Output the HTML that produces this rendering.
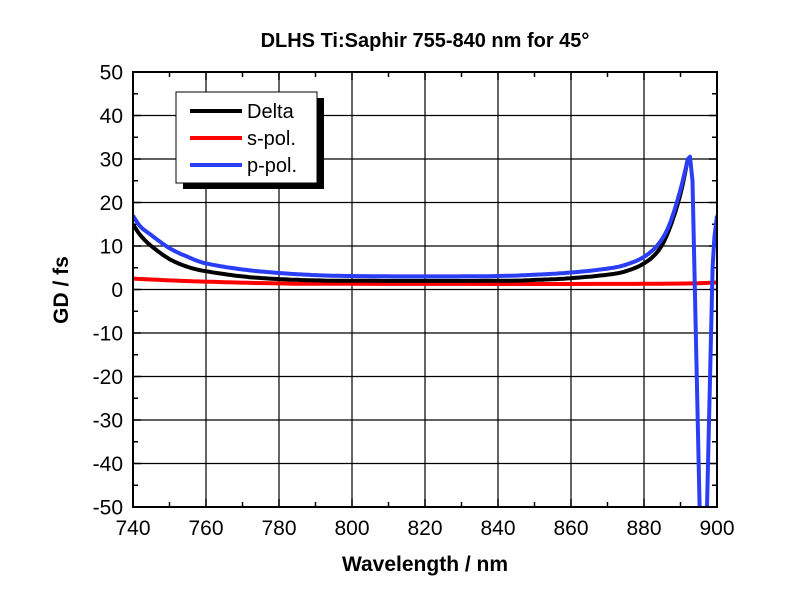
<!DOCTYPE html>
<html><head><meta charset="utf-8"><style>
html,body{margin:0;padding:0;background:#fff}
svg text{font-family:"Liberation Sans",Arial,sans-serif}
</style></head><body>
<svg id="s" width="800" height="600" xmlns="http://www.w3.org/2000/svg"></svg>
<script>
const X0=133,X1=717,Y0=72,Y1=507;
const xs=l=>X0+(l-740)*(X1-X0)/160, ys=v=>Y1-(v+50)*(Y1-Y0)/100;
let h='<rect width="800" height="600" fill="#fff"/>';
h+='<text x="425" y="47" text-anchor="middle" font-size="20" font-weight="bold">DLHS Ti:Saphir 755-840 nm for 45°</text>';
for(let l=760;l<900;l+=20)h+=`<line x1="${xs(l)}" y1="${Y0}" x2="${xs(l)}" y2="${Y1}" stroke="#000" stroke-width="1.2"/>`;
for(let v=-40;v<50;v+=10)h+=`<line x1="${X0}" y1="${ys(v)}" x2="${X1}" y2="${ys(v)}" stroke="#000" stroke-width="1.2"/>`;
for(let l=740;l<=900;l+=10){let L=(l%20==0)?8:5;h+=`<line x1="${xs(l)}" y1="${Y1}" x2="${xs(l)}" y2="${Y1-L}" stroke="#000" stroke-width="1.5"/><line x1="${xs(l)}" y1="${Y0}" x2="${xs(l)}" y2="${Y0+L}" stroke="#000" stroke-width="1.5"/>`;}
for(let v=-50;v<=50;v+=5){let L=(v%10==0)?8:5;h+=`<line x1="${X0}" y1="${ys(v)}" x2="${X0+L}" y2="${ys(v)}" stroke="#000" stroke-width="1.5"/><line x1="${X1}" y1="${ys(v)}" x2="${X1-L}" y2="${ys(v)}" stroke="#000" stroke-width="1.5"/>`;}
for(let l=740;l<=900;l+=20)h+=`<text x="${xs(l)}" y="535" text-anchor="middle" font-size="21">${l}</text>`;
for(let v=-50;v<=50;v+=10)h+=`<text x="123" y="${ys(v)+7.5}" text-anchor="end" font-size="21">${v}</text>`;
h+='<text x="425" y="571" text-anchor="middle" font-size="21" font-weight="bold">Wavelength / nm</text>';
h+='<text transform="translate(68,290) rotate(-90)" text-anchor="middle" font-size="21" font-weight="bold">GD / fs</text>';
function cr(a){ // catmull-rom sample
  let out=[a[0]];
  for(let i=0;i<a.length-1;i++){
    const p0=a[Math.max(0,i-1)],p1=a[i],p2=a[i+1],p3=a[Math.min(a.length-1,i+2)];
    for(let t=0.1;t<=1.0001;t+=0.1){
      const t2=t*t,t3=t2*t;
      const f=k=>0.5*((2*p1[k])+(-p0[k]+p2[k])*t+(2*p0[k]-5*p1[k]+4*p2[k]-p3[k])*t2+(-p0[k]+3*p1[k]-3*p2[k]+p3[k])*t3);
      out.push([f(0),f(1)]);
    }
  }
  return out;
}
const P=a=>'M'+a.map(p=>xs(p[0]).toFixed(1)+','+ys(p[1]).toFixed(1)).join(' L');
const s=[[740,2.5],[750,2.1],[760,1.8],[780,1.4],[800,1.3],[880,1.3],[900,1.6]];
const d=[[740,15],[742,12.5],[745,10],[750,7],[755,5.2],[760,4.2],[770,3],[780,2.4],[790,2.1],[800,2],[840,2],[850,2.2],[860,2.6],[870,3.4],[875,4.2],[880,6],[884,9],[887,14],[890,22],[892,30]];
const p=[[740,17],[742,14.5],[745,12.5],[750,9.5],[755,7.5],[760,6],[770,4.6],[780,3.8],[790,3.3],[800,3.1],[820,3],[840,3.1],[850,3.4],[860,3.9],[870,4.8],[875,5.7],[880,7.5],[884,10.5],[887,15],[890,23],[892,30]];
const tail=[[892,30],[892.6,30.5],[893.3,25],[895.3,-52]];
const p2=[[897.2,-52],[898.8,5],[899.3,12],[900,17]];
h+=`<svg x="${X0}" y="${Y0}" width="${X1-X0}" height="${Y1-Y0}" viewBox="${X0} ${Y0} ${X1-X0} ${Y1-Y0}" overflow="hidden">`;
h+=`<path d="${P(cr(s))}" fill="none" stroke="#f00" stroke-width="4"/>`;
h+=`<path d="${P(cr(d))}" fill="none" stroke="#000" stroke-width="4"/>`;
h+=`<path d="${P(cr(p))} L${tail.slice(1).map(q=>xs(q[0]).toFixed(1)+','+ys(q[1]).toFixed(1)).join(' L')}" fill="none" stroke="#2a3ff5" stroke-width="4" stroke-linejoin="round"/>`;
h+=`<path d="${P(p2)}" fill="none" stroke="#2a3ff5" stroke-width="4" stroke-linejoin="round"/></svg>`;
h+=`<rect x="${X0}" y="${Y0}" width="${X1-X0}" height="${Y1-Y0}" fill="none" stroke="#000" stroke-width="2"/>`;
h+='<rect x="183" y="98" width="141" height="91" fill="#000"/><rect x="176" y="92" width="141" height="91" fill="#fff" stroke="#000" stroke-width="1"/>';
const lg=[["#000","Delta",111],["#f00","s-pol.",138],["#2a3ff5","p-pol.",165]];
for(const [c,t,y] of lg)h+=`<line x1="190" y1="${y}" x2="242" y2="${y}" stroke="${c}" stroke-width="4"/><text x="247" y="${y+7}" font-size="20">${t}</text>`;
document.getElementById('s').innerHTML=h;
</script>
</body></html>
